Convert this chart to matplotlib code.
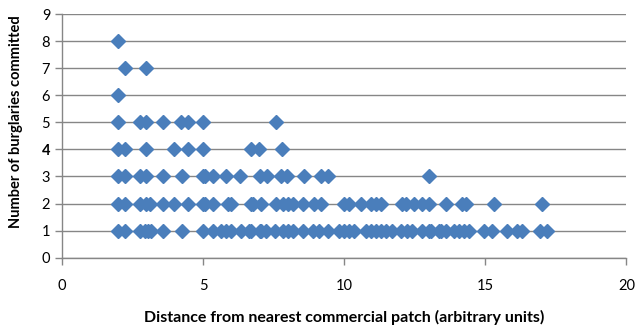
import numpy as np
import matplotlib.pyplot as plt

plt.rcParams['font.family'] = ['Lato', 'DejaVu Sans']

# distance of each recorded burglary cluster, grouped by count
dist_1 = [2.0, 2.24, 2.78, 2.93, 3.05, 3.17, 3.59, 4.24, 4.98, 5.35, 5.64, 5.82, 6.0,
          6.35, 6.64, 6.68, 7.0, 7.06, 7.23, 7.53, 7.82, 8.0, 8.17, 8.53, 8.88, 9.12,
          9.41, 9.82, 10.0, 10.18, 10.35, 10.77, 10.94, 11.12, 11.3, 11.47, 11.71,
          12.0, 12.24, 12.41, 12.77, 13.0, 13.06, 13.36, 13.42, 13.59, 13.89, 14.06,
          14.24, 14.42, 14.95, 15.24, 15.77, 16.12, 16.3, 16.95, 17.18]
dist_2 = [2.0, 2.24, 2.78, 2.99, 3.11, 3.59, 3.98, 4.45, 4.98, 5.05, 5.35, 5.88, 6.0,
          6.68, 6.76, 7.06, 7.59, 7.82, 8.0, 8.17, 8.53, 8.94, 9.18, 10.0, 10.18,
          10.59, 10.94, 11.12, 11.3, 12.06, 12.2, 12.47, 12.77, 13.0, 13.59, 14.18,
          14.3, 15.3, 17.0]
dist_3 = [2.0, 2.24, 2.78, 2.99, 3.59, 4.24, 4.98, 5.05, 5.35, 5.82, 6.31, 7.0, 7.25,
          7.76, 7.98, 8.59, 9.18, 9.41, 13.0]
dist_4 = [2.0, 2.24, 2.98, 3.98, 4.45, 4.98, 6.68, 6.97, 7.8]
dist_5 = [2.0, 2.78, 2.99, 3.59, 4.2, 4.45, 4.98, 7.6]
dist_6 = [2.0]
dist_7 = [2.23, 2.98]
dist_8 = [2.0]

groups = [dist_1, dist_2, dist_3, dist_4, dist_5, dist_6, dist_7, dist_8]
x = np.concatenate(groups)
y = np.concatenate([[i + 1] * len(g) for i, g in enumerate(groups)])

fig = plt.figure(figsize=(6.35, 3.29), dpi=100)
ax = fig.add_axes([0.0976, 0.2167, 0.889, 0.7407])

ax.plot(x, y, linestyle='none', marker='D', ms=7, color='#4a7ebb',
        markeredgecolor='#4a7ebb', zorder=3)

ax.set_xlim(0, 20)
ax.set_ylim(0, 9)
ax.set_xticks([0, 5, 10, 15, 20])
ax.set_yticks(range(10))
ax.yaxis.grid(True, color='#868686', lw=1)
ax.set_axisbelow(True)

for side in ['top', 'right']:
    ax.spines[side].set_visible(False)
for side in ['left', 'bottom']:
    ax.spines[side].set_color('#868686')
    ax.spines[side].set_linewidth(1)
ax.tick_params(colors='#868686', labelcolor='#000000', labelsize=10.5, length=5,
               width=1)
ax.tick_params(axis='x', pad=10)
ax.get_yticklabels()[4].set_fontweight('bold')

ax.set_xlabel('Distance from nearest commercial patch (arbitrary units)',
              fontsize=11.5, fontweight='bold')
ax.xaxis.set_label_coords(0.5, -0.215)
ax.set_ylabel('Number of burglaries committed', fontsize=10.5, fontweight='bold')
ax.yaxis.set_label_coords(-0.069, 0.56)

fig.savefig('out.png', dpi=100)
plt.close()
